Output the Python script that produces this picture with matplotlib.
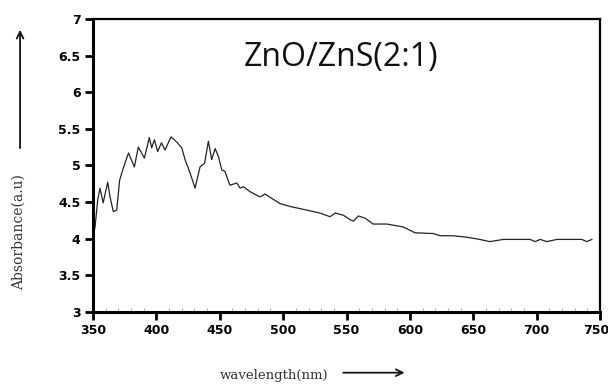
import matplotlib
matplotlib.use("Agg")
import matplotlib.pyplot as plt
import matplotlib.transforms as mtransforms
import numpy as np

wavelength = [350, 351.6, 353.7, 355.5, 358, 361.6, 363.4, 366, 368.7, 371, 374, 378, 382.6,
              385.7, 388, 390.5, 394.4, 396.3, 398.4, 401, 404, 406.8, 411.5, 416, 420, 422.6,
              426.5, 430.5, 434.4, 438, 441, 443.6, 446.3, 449, 451.5, 454, 458, 463.4, 466,
              468.6, 474, 481.8, 485.7, 491, 497.5, 505.4, 516, 526.5, 529, 537, 541, 547.5,
              552.8, 555.4, 559.3, 564.6, 571, 581.7, 594.8, 604, 618.5, 623.8, 634, 645, 655,
              663, 673.7, 694.8, 698.7, 702.7, 708, 716, 735.6, 739.5, 743.5]
absorbance = [4.05, 4.16, 4.53, 4.69, 4.49, 4.77, 4.57, 4.37, 4.39, 4.80, 4.97, 5.17, 4.98,
              5.25, 5.18, 5.10, 5.38, 5.24, 5.35, 5.19, 5.31, 5.21, 5.39, 5.32, 5.24, 5.08,
              4.90, 4.69, 4.98, 5.03, 5.33, 5.08, 5.23, 5.12, 4.94, 4.92, 4.73, 4.76, 4.69,
              4.71, 4.64, 4.57, 4.61, 4.55, 4.48, 4.44, 4.40, 4.36, 4.35, 4.30, 4.35, 4.32,
              4.26, 4.24, 4.31, 4.28, 4.20, 4.20, 4.16, 4.08, 4.07, 4.04, 4.04, 4.02, 3.99,
              3.96, 3.99, 3.99, 3.96, 3.99, 3.96, 3.99, 3.99, 3.96, 3.99]

x_ticks = [350, 400, 450, 500, 550, 600, 650, 700, 750]
y_ticks = [3, 3.5, 4, 4.5, 5, 5.5, 6, 6.5, 7]
y_ticklabels = ["3", "3.5", "4", "4.5", "5", "5.5", "6", "6.5", "7"]
title_text = "ZnO/ZnS(2:1)"
xlabel_text = "wavelength(nm)"
ylabel_text = "Absorbance(a.u)"

fig = plt.figure(figsize=(6.08, 3.87), dpi=100)
ax = fig.add_axes([0.153, 0.194, 0.834, 0.757])
ax.plot(wavelength, absorbance, color="#222222", lw=0.9)
ax.set_xlim(350, 750)
ax.set_ylim(3, 7)
ax.set_xticks(x_ticks)
ax.set_xticklabels([str(v) for v in x_ticks])
ax.set_yticks(y_ticks)
ax.set_yticklabels(y_ticklabels)
ax.set_xticks(np.arange(350, 750, 10), minor=True)
ax.tick_params(axis="x", which="minor", direction="in", length=3, width=0.6, color="#999999")
ax.tick_params(axis="both", which="major", direction="out", length=6, width=2,
               labelsize=9, pad=3)
for lab in ax.get_xticklabels() + ax.get_yticklabels():
    lab.set_fontweight("bold")
last = ax.get_xticklabels()[-1]
last.set_transform(last.get_transform() +
                   mtransforms.ScaledTranslation(-4 / 100, 0, fig.dpi_scale_trans))
for side in ["left", "bottom"]:
    ax.spines[side].set_linewidth(2.2)
for side in ["top", "right"]:
    ax.spines[side].set_linewidth(1.6)

ax.text(0.49, 0.87, title_text, transform=ax.transAxes, ha="center", va="center",
        fontsize=23, family="Open Sans", color="#111111")

fig.text(0.031, 0.40, ylabel_text, rotation=90, ha="center", va="center",
         fontsize=10, family="DejaVu Serif", color="#333333")
fig.add_artist(matplotlib.patches.FancyArrowPatch((0.033, 0.61), (0.033, 0.93),
               transform=fig.transFigure, arrowstyle="->", mutation_scale=12,
               lw=1.3, color="#111111"))
fig.text(0.45, 0.03, xlabel_text, ha="center", va="center",
         fontsize=9.5, family="DejaVu Serif", color="#333333")
fig.add_artist(matplotlib.patches.FancyArrowPatch((0.56, 0.037), (0.67, 0.037),
               transform=fig.transFigure, arrowstyle="->", mutation_scale=12,
               lw=1.3, color="#111111"))

fig.savefig("out.png", dpi=100)
